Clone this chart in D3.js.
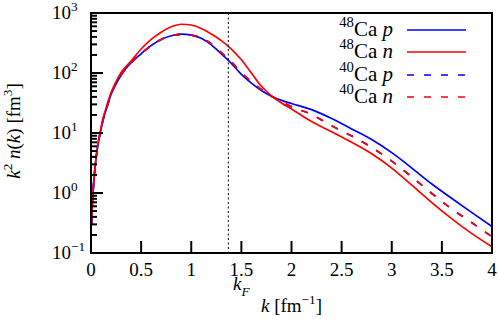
<!DOCTYPE html>
<html><head><meta charset="utf-8">
<script src="https://cdn.jsdelivr.net/npm/d3@7"></script>
<style>
body{margin:0;background:#fff}
svg{display:block}
svg text{font-family:"Liberation Serif","DejaVu Serif","Times New Roman",Times,serif;}
</style>
</head><body>
<svg id="c" width="498" height="319"></svg>
<script>
const kGrid = [0.005,0.01,0.02,0.035,0.05,0.08,0.1,0.12,0.15,0.2,0.25,0.3,0.4,0.5,0.6,0.7,0.8,0.9,1.0,1.1,1.2,1.3,1.4,1.5,1.6,1.7,1.8,1.9,2.0,2.2,2.4,2.6,2.8,3.0,3.2,3.4,3.6,3.8,4.0];
const ca48p = [0.3,0.5,1.0,2.1,3.7,8.0,11.5,16.5,24,44,66,92,148,209,288,363,417,445,428,380,295,209,145,95,68,51,41,35,31,24.5,17.4,11.7,7.8,4.7,2.6,1.41,0.81,0.47,0.275];
const ca48n = [0.3,0.52,1.05,2.2,3.9,8.5,12.3,17.5,26,47,72,102,158,251,363,479,589,650,631,550,447,347,251,166,100,60,41.7,31.6,25.1,15.5,10.5,7.0,4.5,2.6,1.35,0.69,0.37,0.21,0.127];
const ca40p = [0.3,0.5,1.0,2.1,3.7,8.0,11.5,16.5,24,44,66,92,148,209,288,363,417,442,428,385,305,218,153,101,72,53,41,33.5,27.5,20.4,13.2,8.9,5.75,3.4,1.86,0.98,0.54,0.32,0.186];
const ca40n = [0.3,0.5,1.0,2.1,3.7,8.0,11.5,16.5,24,44,66,92,148,209,288,363,417,442,428,385,305,218,153,101,72,53,41,33.5,27.5,20.4,13.2,8.9,5.75,3.4,1.86,0.98,0.54,0.32,0.186];
const xTicks = [0,0.5,1,1.5,2,2.5,3,3.5,4];
const xTickLabels = ["0","0.5","1","1.5","2","2.5","3","3.5","4"];
const yTicks = [0.1,1,10,100,1000];
const yExponents = ["\u22121","0","1","2","3"];
const kF = 1.37;
const legendNames = [["48","p"],["48","n"],["40","p"],["40","n"]];

const FS = 19;
const svg = d3.select("#c");
const L=91,R=492,T=13,B=253;
const x = d3.scaleLinear().domain([0,4]).range([L,R]);
const y = d3.scaleLog().domain([0.1,1000]).range([B,T]);

const series = [
  {v:ca48p,c:"#0000ff",dash:null},
  {v:ca48n,c:"#ff0000",dash:null},
  {v:ca40p,c:"#0000ff",dash:"7,10"},
  {v:ca40n,c:"#ff0000",dash:"7,10"}
];

svg.append("clipPath").attr("id","clip").append("rect").attr("x",L).attr("y",T).attr("width",R-L).attr("height",B-T);

function rich(g, parts, fs){
  let off=0;
  parts.forEach(p=>{
    const ts=g.append("tspan").text(p.t);
    if(p.it) ts.style("font-style","italic");
    let target=0, size=fs;
    if(p.sup){target=-0.42*fs; size=fs*0.7;}
    if(p.sub){target=0.3*fs; size=fs*0.7;}
    ts.style("font-size",size+"px").attr("dy",target-off);
    off=target;
  });
}

// curves
const line = d3.line().x((d,i)=>x(kGrid[i])).y(d=>y(d)).curve(d3.curveMonotoneX);
const cg = svg.append("g").attr("clip-path","url(#clip)");
series.forEach(s=>{
  cg.append("path").attr("d",line(s.v)).attr("fill","none").attr("stroke",s.c)
    .attr("stroke-width",1.7).attr("stroke-dasharray",s.dash);
});

// kF line
svg.append("line").attr("x1",x(kF)).attr("x2",x(kF)).attr("y1",T).attr("y2",B)
  .attr("stroke","#000").attr("stroke-width",1).attr("stroke-dasharray","2,2.5");

// ticks
const tg = svg.append("g").attr("stroke","#000").attr("stroke-width",2);
xTicks.forEach(t=>tg.append("line").attr("x1",x(t)).attr("x2",x(t)).attr("y1",B).attr("y2",B-12));
yTicks.forEach((t,i)=>{
  tg.append("line").attr("x1",L).attr("x2",L+12).attr("y1",y(t)).attr("y2",y(t));
  if(i<yTicks.length-1){
    for(let m=2;m<=9;m++){const v=t*m; tg.append("line").attr("x1",L).attr("x2",L+6).attr("y1",y(v)).attr("y2",y(v));}
  }
});
// frame
svg.append("rect").attr("x",L).attr("y",T).attr("width",R-L).attr("height",B-T)
  .attr("fill","none").attr("stroke","#000").attr("stroke-width",2);

// x tick labels
xTicks.forEach((t,i)=>{
  svg.append("text").attr("x",x(t)).attr("y",276).attr("text-anchor","middle")
    .style("font-size",FS+"px").text(xTickLabels[i]);
});
// y tick labels
yTicks.forEach((t,i)=>{
  const g=svg.append("text").attr("y",y(t)+6).style("font-size",FS+"px");
  rich(g,[{t:"10"},{t:yExponents[i],sup:true}],FS);
  const base=g.select("tspan").node().getComputedTextLength();
  g.attr("x",71-base);
});

// kF label
const kfl=svg.append("text").attr("x",233).attr("y",290).style("font-size",FS+"px");
rich(kfl,[{t:"k",it:true},{t:"F",it:true,sub:true}],FS);

// axis titles
const xt=svg.append("text").attr("x",(L+R)/2).attr("y",312).attr("text-anchor","middle").style("font-size",FS+"px");
rich(xt,[{t:"k",it:true},{t:" [fm"},{t:"\u22121",sup:true},{t:"]"}],FS);
const yt=svg.append("text").attr("transform","translate(20,131) rotate(-90)").attr("text-anchor","middle").style("font-size",FS+"px");
rich(yt,[{t:"k",it:true},{t:"2",sup:true},{t:" n",it:true},{t:"("},{t:"k",it:true},{t:") [fm"},{t:"3",sup:true},{t:"]"}],FS);

// legend
const rowsY=[30,52,75,97];
series.forEach((s,i)=>{
  svg.append("line").attr("x1",407).attr("x2",466).attr("y1",rowsY[i]).attr("y2",rowsY[i])
    .attr("stroke",s.c).attr("stroke-width",1.7).attr("stroke-dasharray",s.dash);
  const t=svg.append("text").attr("x",393).attr("y",rowsY[i]+6).attr("text-anchor","end")
    .style("font-size","21px");
  rich(t,[{t:legendNames[i][0],sup:true},{t:"Ca "},{t:legendNames[i][1],it:true}],21);
});
</script>
</body></html>
